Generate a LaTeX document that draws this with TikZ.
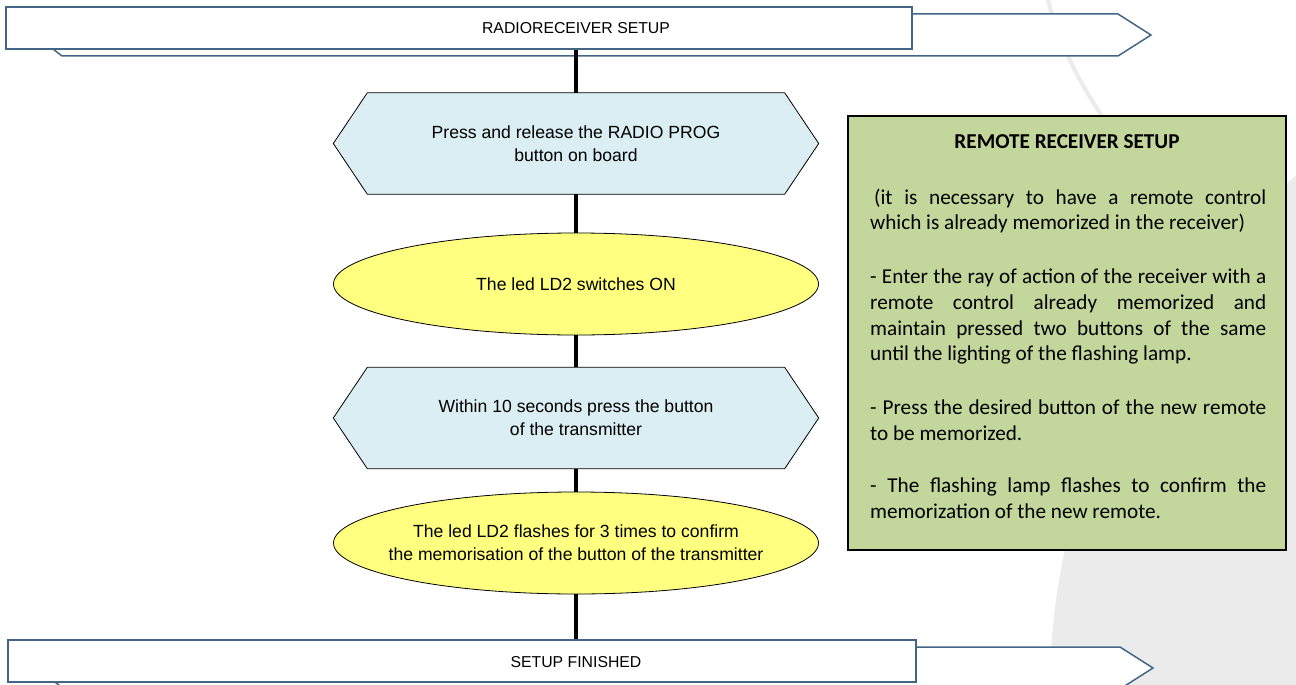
\documentclass[tikz,border=0pt]{standalone}
\usepackage{fontspec}
\setmainfont{Liberation Sans}
\newfontfamily\notefont{Carlito}
\usetikzlibrary{shapes.geometric,backgrounds}
\definecolor{bannerline}{RGB}{68,102,134}
\definecolor{hexfill}{RGB}{218,238,243}
\definecolor{ovalfill}{RGB}{255,255,128}
\definecolor{notefill}{RGB}{195,214,155}
\definecolor{markgray}{RGB}{235,235,235}
\newcommand\flowfont{\fontsize{17.6}{23}\selectfont}
\newcommand\notesize{\notefont\fontsize{21.2}{26}\selectfont}

\begin{document}
\begin{tikzpicture}[x=1pt,y=-1pt,
  bannerarrow/.style={draw=bannerline, line width=1.5pt, fill=white, line join=miter},
  bannerbox/.style={rectangle, draw=bannerline, line width=1.5pt, fill=white,
    inner sep=0pt, minimum height=42pt},
  bannertext/.style={font=\fontsize{15.8}{18}\selectfont, inner sep=0pt},
  stepbox/.style={rectangle, minimum width=417pt, minimum height=101pt, inner sep=0pt,
    align=center, font=\flowfont},
  stepshape/.style={draw=black, line width=0.8pt, fill=hexfill, line join=miter},
  ovalbox/.style={ellipse, draw=black, line width=0.8pt, fill=ovalfill,
    minimum width=485pt, minimum height=102pt, inner xsep=-30pt, inner ysep=0pt,
    align=center, font=\flowfont},
  flow/.style={line width=4pt, black},
  notebox/.style={rectangle, draw=black, line width=2pt, fill=notefill, inner sep=0pt,
    minimum width=438pt, minimum height=434pt},
  notetitle/.style={font=\notesize\bfseries, inner sep=0pt, anchor=base},
  noteline/.style={font=\notesize, inner sep=0pt, anchor=base west},
]
\useasboundingbox (0,0) rectangle (1296,685);

% start banner
\draw[bannerarrow] (8,14) -- (1118,14) -- (1151,35) -- (1118,56) -- (62,56) -- cycle;
\node[bannerbox, minimum width=906pt] (start) at (459,28) {};
\node[bannertext] (starttext) at (576,28) {RADIORECEIVER SETUP};

% finish banner
\draw[bannerarrow] (10,647) -- (1120,647) -- (1153,668) -- (1120,689) -- (64,689) -- cycle;
\node[bannerbox, minimum width=908pt] (finish) at (462,661) {};
\node[bannertext] (finishtext) at (576,662) {SETUP FINISHED};

% flow steps
\node[stepbox] (s1) at (576,143.5) {Press and release the RADIO PROG\\button on board};
\node[ovalbox] (o1) at (576,284) {The led LD2 switches ON};
\node[stepbox] (s2) at (576,418) {Within 10 seconds press the button\\of the transmitter};
\node[ovalbox] (o2) at (576,543) {The led LD2 flashes for 3 times to confirm\\the memorisation of the button of the transmitter};

% hexagon outlines behind the step texts, over a faint backdrop mark
\begin{scope}[on background layer]
  \begin{scope}
    \clip (0,0) rectangle (1296,685);
    \fill[markgray] (1711,690) circle[radius=661];
    \draw[markgray, line width=4pt] (1048,0) .. controls (1075,110) and (1180,230) .. (1296,290);
  \end{scope}
  \foreach \n in {s1,s2}
    \draw[stepshape] (\n.north west) -- (\n.north east) -- ([xshift=34pt]\n.east)
      -- (\n.south east) -- (\n.south west) -- ([xshift=-34pt]\n.west) -- cycle;
\end{scope}

% connectors
\draw[flow] (start.south -| s1.north) -- (s1.north);
\draw[flow] (s1) -- (o1);
\draw[flow] (o1) -- (s2);
\draw[flow] (s2) -- (o2);
\draw[flow] (o2) -- (finish.north -| o2.south);

% side note
\node[notebox] (remote) at (1067,333) {};
\node[notetitle] (rtitle) at (1067,148) {REMOTE RECEIVER SETUP};
\node[noteline] (r1) at (874,204) {\makebox[392pt][s]{(it is necessary to have a remote control}};
\node[noteline] (r2) at (870,229) {which is already memorized in the receiver)};
\node[noteline] (r3) at (870,283) {\makebox[396pt][s]{- Enter the ray of action of the receiver with a}};
\node[noteline] (r4) at (870,309) {\makebox[396pt][s]{remote control already memorized and}};
\node[noteline] (r5) at (870,335) {\makebox[396pt][s]{maintain pressed two buttons of the same}};
\node[noteline] (r6) at (870,360) {until the lighting of the flashing lamp.};
\node[noteline] (r7) at (870,414) {\makebox[396pt][s]{- Press the desired button of the new remote}};
\node[noteline] (r8) at (870,440) {to be memorized.};
\node[noteline] (r9) at (870,492) {\makebox[396pt][s]{- The flashing lamp flashes to confirm the}};
\node[noteline] (r10) at (870,518) {memorization of the new remote.};
\end{tikzpicture}
\end{document}
